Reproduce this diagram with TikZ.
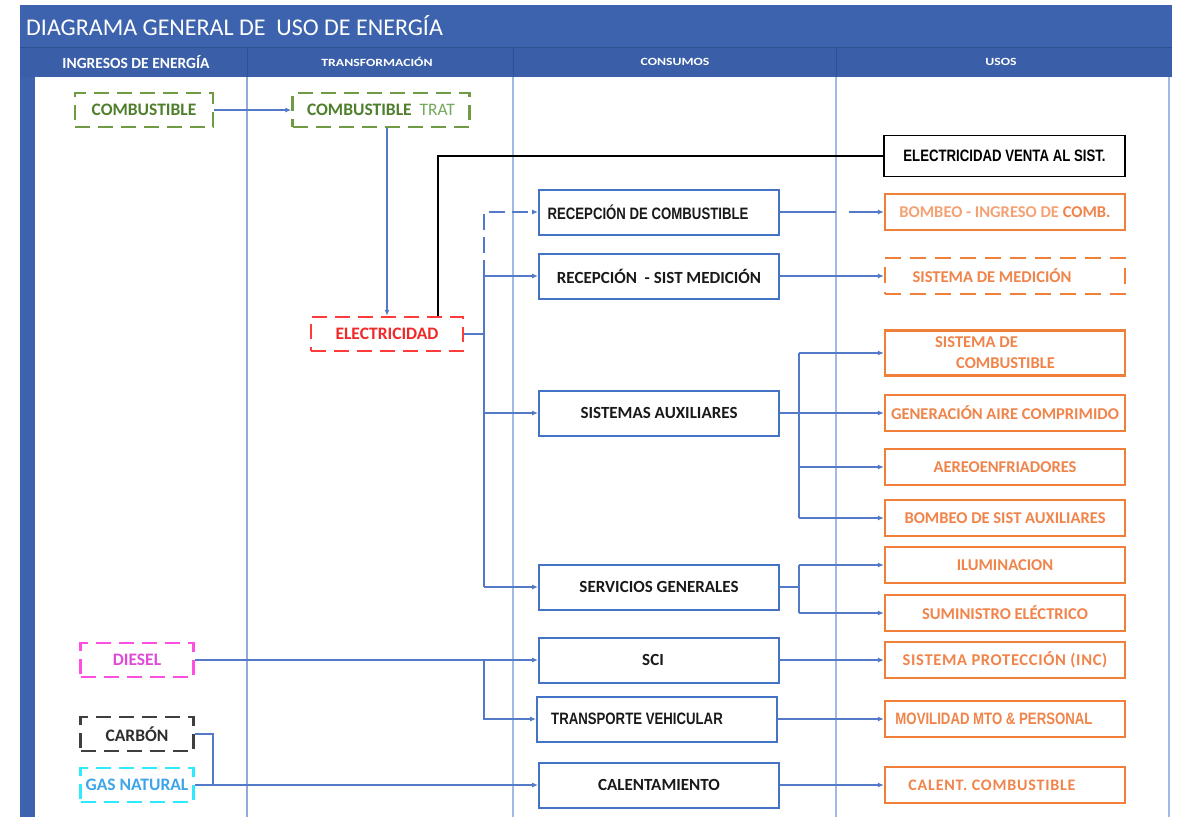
\documentclass[tikz,border=0pt]{standalone}
\usepackage{fontspec}
\setmainfont{Carlito}
\newfontfamily\narrowfont{Liberation Sans}
\usetikzlibrary{arrows.meta}

\definecolor{frameblue}{HTML}{3D63AE}
\definecolor{headblue}{HTML}{3A5FA8}
\definecolor{darksep}{HTML}{2F5091}
\definecolor{colline}{HTML}{A3B8E2}
\definecolor{boxblue}{HTML}{4472C4}
\definecolor{lineblue}{HTML}{5479C6}
\definecolor{grn}{HTML}{6F9B45}
\definecolor{grntxt}{HTML}{4F7F2C}
\definecolor{grnlight}{HTML}{74A85A}
\definecolor{redd}{HTML}{FF3B3B}
\definecolor{redtxt}{HTML}{F02828}
\definecolor{mag}{HTML}{FF4FE0}
\definecolor{magtxt}{HTML}{E04AD6}
\definecolor{gry}{HTML}{3F3F3F}
\definecolor{grytxt}{HTML}{2E2E2E}
\definecolor{cyn}{HTML}{2CEBFF}
\definecolor{cyntxt}{HTML}{3DA5E8}
\definecolor{orng}{HTML}{F07F3A}
\definecolor{orngtxt}{HTML}{F0844A}
\definecolor{orngpale}{HTML}{F4A274}

% narrow bold lettering
\newcommand{\nar}[1]{\scalebox{0.8}[1]{\narrowfont\bfseries\fontsize{16.5}{19}\selectfont #1}}
% widened header lettering
\newcommand{\hdr}[1]{\scalebox{1.25}[1]{#1}}

\begin{document}
\begin{tikzpicture}[x=1pt,y=-1pt,
  link/.style={draw=lineblue,line width=1.1pt},
  arr/.style={link,-{Latex[length=6pt,width=5pt]}},
  src/.style={draw,fill=white,line width=2.5pt,dash pattern=on 15pt off 8pt,
    minimum height=34pt,inner sep=0pt,font=\bfseries\fontsize{17.5}{20}\selectfont},
  cons/.style={draw=boxblue,fill=white,line width=2pt,minimum width=240pt,
    minimum height=45pt,inner sep=0pt,text=black!90,font=\bfseries\fontsize{17}{20}\selectfont},
  uso/.style={draw=orng,fill=white,line width=2.2pt,minimum width=240pt,
    minimum height=36pt,inner sep=0pt,text=orngtxt,font=\bfseries\fontsize{16.5}{21}\selectfont},
  hdrtext/.style={text=white,font=\bfseries\fontsize{11}{13}\selectfont},
]
\useasboundingbox (0,0) rectangle (1178,817);
\fill[white] (0,0) rectangle (1178,817);

% swimlane frame
\fill[frameblue] (20,5) rectangle (1172,47);
\fill[headblue] (20,47) rectangle (1172,77);
\fill[frameblue] (20,77) rectangle (35,817);
\draw[darksep,line width=1pt] (20,47) -- (1172,47);
\foreach \x in {247,513,836} \draw[darksep,line width=1pt] (\x,47) -- (\x,77);
\draw[colline!80!boxblue,line width=1.4pt] (247,77) -- (247,817);
\draw[colline,line width=2.2pt] (513,77) -- (513,817);
\draw[colline,line width=2pt] (836,77) -- (836,817);
\draw[colline,line width=2pt] (1169,77) -- (1169,817);

\node[anchor=west,text=white,font=\fontsize{24}{28}\selectfont,inner sep=0pt] (title) at (26,26) {DIAGRAMA GENERAL DE\ \ USO DE ENERGÍA};
\node[hdrtext,font=\bfseries\fontsize{15.5}{18}\selectfont] (h1) at (136,62) {INGRESOS DE ENERGÍA};
\node[hdrtext] (h2) at (377,62) {\hdr{TRANSFORMACIÓN}};
\node[hdrtext] (h3) at (675,62) {\hdr{CONSUMOS}};
\node[hdrtext] (h4) at (1001,62) {\hdr{USOS}};

% energy inputs and transformation
\node[src,draw=grn,text=grntxt,minimum width=138pt] (comb) at (144,110) {COMBUSTIBLE};
\node[src,draw=grn,text=grntxt,minimum width=177pt] (combt) at (381,110) {COMBUSTIBLE\hspace{8pt}{\mdseries\color{grnlight}TRAT}};
\node[src,draw=redd,text=redtxt,minimum width=152pt] (elec) at (387,334) {ELECTRICIDAD};
\node[src,draw=mag,text=magtxt,minimum width=113pt] (diesel) at (137,660) {DIESEL};
\node[src,draw=gry,text=grytxt,minimum width=113pt] (carbon) at (137,734) {CARBÓN};
\node[src,draw=cyn,text=cyntxt,minimum width=113pt] (gas) at (137,785) {GAS NATURAL};
\node[draw=black,fill=white,line width=1.6pt,minimum width=241pt,minimum height=41pt,inner sep=0pt] (venta) at (1004.5,156) {\nar{ELECTRICIDAD VENTA AL SIST.}};

% consumers
\node[cons] (rc) at (659,212) {\nar{RECEPCIÓN DE COMBUSTIBLE}\hspace*{22pt}};
\node[cons] (rsm) at (659,276) {RECEPCIÓN\ \ - SIST MEDICIÓN};
\node[cons] (sa) at (659,413) {SISTEMAS AUXILIARES};
\node[cons] (sg) at (659,587) {SERVICIOS GENERALES};
\node[cons] (sci) at (659,660) {SCI\hspace*{12pt}};
\node[cons] (tv) at (657,719) {\nar{TRANSPORTE VEHICULAR}\hspace*{40pt}};
\node[cons] (cal) at (659,785) {CALENTAMIENTO};

% end uses
\node[uso] (u1) at (1005,212) {{\color{orngpale}BOMBEO - INGRESO DE} COMB.};
\node[uso,dash pattern=on 16pt off 9pt] (u2) at (1005,276) {SISTEMA DE MEDICIÓN\hspace*{26pt}};
\node[uso,minimum height=45pt,align=left] (u3) at (1005,353) {SISTEMA DE\\\hspace*{21pt}COMBUSTIBLE\hspace*{20pt}};
\node[uso] (u4) at (1005,413) {GENERACIÓN AIRE COMPRIMIDO};
\node[uso] (u5) at (1005,467) {AEREOENFRIADORES};
\node[uso] (u6) at (1005,518) {BOMBEO DE SIST AUXILIARES};
\node[uso] (u7) at (1005,565) {ILUMINACION};
\node[uso] (u8) at (1005,613) {SUMINISTRO ELÉCTRICO};
\node[uso] (u9) at (1005,660) {\addfontfeatures{LetterSpace=4}SISTEMA PROTECCIÓN (INC)};
\node[uso] (u10) at (1005,719) {\nar{MOVILIDAD MTO \& PERSONAL}\hspace*{22pt}};
\node[uso] (u11) at (1005,785) {\addfontfeatures{LetterSpace=5}\fontsize{16}{19}\selectfont CALENT. COMBUSTIBLE\hspace*{26pt}};

% junction lines
\coordinate (bus) at (484,0);
\coordinate (ab) at (799,0);
\coordinate (cj) at (213,0);
\coordinate (vx) at (438,0);

\draw[arr] (comb.east) -- (combt.west);
\draw[arr] (combt.south -| elec.north) -- (elec.north);
\draw[black,line width=1.4pt] (elec.north -| vx) |- (venta.west);

\draw[link] (elec.east) -- (elec.east -| bus);
\draw[link] (bus |- rsm.west) -- (bus |- sg.west);
\draw[arr,dash pattern=on 16pt off 7pt] (bus |- rsm.west) |- (rc.west);
\draw[arr] (bus |- rsm.west) -- (rsm.west);
\draw[arr] (bus |- sa.west) -- (sa.west);
\draw[arr] (bus |- sg.west) -- (sg.west);

\draw[arr] (diesel.east) -- (sci.west);
\draw[arr] (sci.west -| bus) |- (tv.west);
\draw[link] (carbon.east) -| (gas.east -| cj);
\draw[arr] (gas.east) -- (cal.west);

\draw[link] (rc.east) -- ++(56,0);
\draw[arr] ([xshift=-35pt]u1.west) -- (u1.west);
\draw[arr] (rsm.east) -- (u2.west);
\draw[link] (sa.east) -- (sa.east -| ab);
\draw[link] (ab |- u3.west) -- (ab |- u6.west);
\foreach \u in {u3,u5,u6} \draw[arr] (ab |- \u.west) -- (\u.west);
\draw[arr] (sa.east) -- (u4.west);
\draw[link] (sg.east) -- (sg.east -| ab);
\draw[link] (ab |- u7.west) -- (ab |- u8.west);
\foreach \u in {u7,u8} \draw[arr] (ab |- \u.west) -- (\u.west);
\draw[arr] (sci.east) -- (u9.west);
\draw[arr] (tv.east) -- (u10.west);
\draw[arr] (cal.east) -- (u11.west);
\end{tikzpicture}
\end{document}
